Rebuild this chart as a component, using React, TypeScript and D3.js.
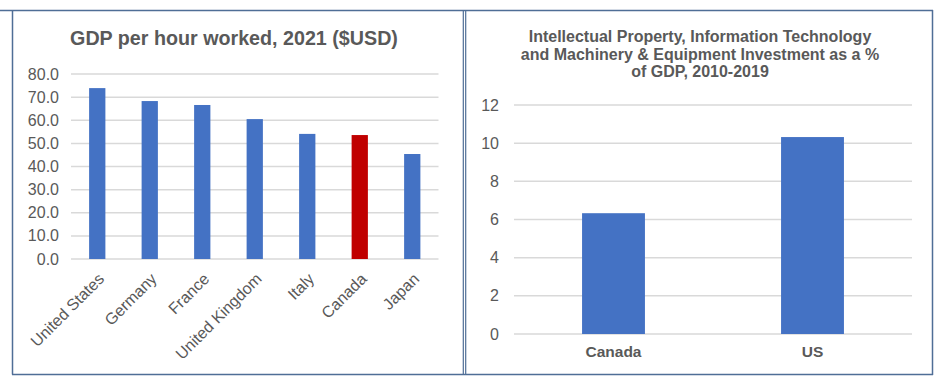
import * as d3 from 'd3'

const gdpCountries = ['United States', 'Germany', 'France', 'United Kingdom', 'Italy', 'Canada', 'Japan']
const gdpValues = [73.9, 68.3, 66.6, 60.5, 54.1, 53.6, 45.4]
const gdpTicks = [0, 10, 20, 30, 40, 50, 60, 70, 80]

const invCountries = ['Canada', 'US']
const invValues = [6.33, 10.32]
const invTicks = [0, 2, 4, 6, 8, 10, 12]

const FONT = 'Arial, "Liberation Sans", sans-serif'
const TEXT = '#595959'
const GRID = '#d9d9d9'
const BLUE = '#4472c4'
const RED = '#c00000'
const BORDER = '#4f6e96'

function GdpChart() {
  const x = d3.scaleBand<string>().domain(gdpCountries).range([71, 438.5]).paddingInner(0.69).paddingOuter(0.345)
  const y = d3.scaleLinear().domain([0, 80]).range([259, 74])
  return (
    <g>
      <text x={234} y={45} textAnchor="middle" fontSize={19.7} fontWeight="bold" fill={TEXT}>
        GDP per hour worked, 2021 ($USD)
      </text>
      {gdpTicks.map((t) => (
        <g key={t}>
          <line x1={71} x2={438.5} y1={y(t)} y2={y(t)} stroke={GRID} strokeWidth={1.5} />
          <text x={59} y={y(t)} dy="0.35em" textAnchor="end" fontSize={16} fill={TEXT}>
            {d3.format('.1f')(t)}
          </text>
        </g>
      ))}
      {gdpCountries.map((c, i) => (
        <rect
          key={c}
          x={x(c)}
          y={y(gdpValues[i])}
          width={x.bandwidth()}
          height={y(0) - y(gdpValues[i])}
          fill={c === 'Canada' ? RED : BLUE}
        />
      ))}
      {gdpCountries.map((c) => {
        const cx = (x(c) ?? 0) + x.bandwidth() / 2
        return (
          <text
            key={c}
            transform={`translate(${cx},${272}) rotate(-45)`}
            textAnchor="end"
            dy="0.7em"
            fontSize={16}
            fill={TEXT}
          >
            {c}
          </text>
        )
      })}
    </g>
  )
}

function InvestmentChart() {
  const x = d3.scaleBand<string>().domain(invCountries).range([514, 912]).paddingInner(0.684).paddingOuter(0.342)
  const y = d3.scaleLinear().domain([0, 12]).range([334, 105])
  const title = [
    'Intellectual Property, Information Technology',
    'and Machinery & Equipment Investment as a %',
    'of GDP, 2010-2019',
  ]
  return (
    <g>
      {title.map((line, i) => (
        <text key={i} x={700} y={42 + i * 17.6} textAnchor="middle" fontSize={16} fontWeight="bold" fill={TEXT}>
          {line}
        </text>
      ))}
      {invTicks.map((t) => (
        <g key={t}>
          <line x1={514} x2={912} y1={y(t)} y2={y(t)} stroke={GRID} strokeWidth={1.5} />
          <text x={499} y={y(t)} dy="0.35em" textAnchor="end" fontSize={16} fill={TEXT}>
            {t}
          </text>
        </g>
      ))}
      {invCountries.map((c, i) => (
        <rect key={c} x={x(c)} y={y(invValues[i])} width={x.bandwidth()} height={y(0) - y(invValues[i])} fill={BLUE} />
      ))}
      {invCountries.map((c) => (
        <text
          key={c}
          x={(x(c) ?? 0) + x.bandwidth() / 2}
          y={357}
          textAnchor="middle"
          fontSize={15.5}
          fontWeight="bold"
          fill={TEXT}
        >
          {c}
        </text>
      ))}
    </g>
  )
}

export default function App() {
  return (
    <svg
      width={947}
      height={387}
      style={{ position: 'absolute', left: 0, top: 0, background: '#fff' }}
      fontFamily={FONT}
    >
      <rect x={0} y={0} width={947} height={387} fill="#fff" />
      <line x1={0} x2={933} y1={10.5} y2={10.5} stroke={BORDER} strokeWidth={1.5} />
      <line x1={12.5} x2={12.5} y1={10} y2={374.5} stroke={BORDER} strokeWidth={1.5} />
      <line x1={12} x2={933} y1={374.5} y2={374.5} stroke={BORDER} strokeWidth={1.5} />
      <line x1={463.3} x2={463.3} y1={10} y2={375} stroke={BORDER} strokeWidth={1.2} />
      <line x1={465.7} x2={465.7} y1={10} y2={375} stroke={BORDER} strokeWidth={1.2} />
      <line x1={932.5} x2={932.5} y1={10} y2={375} stroke={BORDER} strokeWidth={1.5} />
      <GdpChart />
      <InvestmentChart />
    </svg>
  )
}
